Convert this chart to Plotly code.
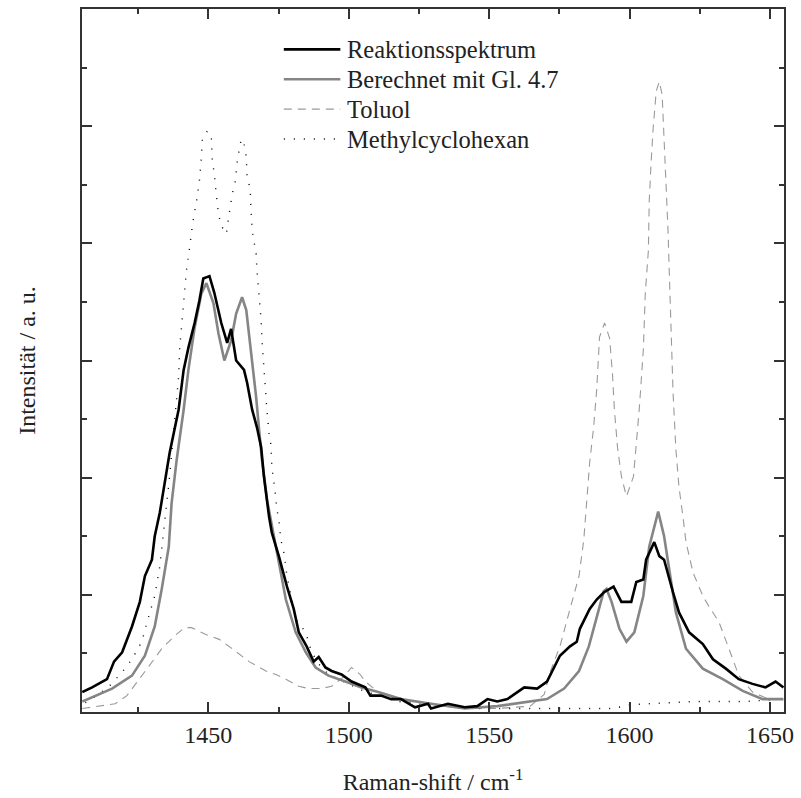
import plotly.graph_objects as go

# ---------------- data ----------------
reak_x = [1405.1, 1408.6, 1413.9, 1416.4, 1419.3, 1422.8, 1425.6, 1427.4, 1429.9, 1430.9,
          1432.7, 1436.2, 1439.4, 1441.2, 1442.9, 1445.1, 1446.8, 1448.2, 1450.4, 1452.1,
          1454.6, 1456.7, 1458.1, 1459.9, 1462.7, 1463.8, 1465.6, 1467.3, 1468.8, 1469.8,
          1471.6, 1472.6, 1475.1, 1478.0, 1480.4, 1482.2, 1485.0, 1487.5, 1489.3, 1491.7,
          1493.9, 1497.4, 1501.0, 1505.9, 1507.7, 1511.5, 1515.1, 1518.6, 1523.6, 1528.2,
          1529.3, 1535.3, 1541.3, 1545.8, 1549.4, 1552.9, 1556.5, 1562.5, 1567.1, 1570.6,
          1575.2, 1578.8, 1581.2, 1582.3, 1585.8, 1588.3, 1590.8, 1594.3, 1597.1, 1600.6,
          1602.4, 1604.9, 1605.9, 1608.8, 1610.6, 1612.3, 1615.5, 1617.6, 1621.2, 1626.1,
          1629.7, 1634.3, 1638.9, 1643.8, 1648.4, 1652.0, 1654.8]
reak_y = [0.17, 0.21, 0.28, 0.43, 0.51, 0.73, 0.94, 1.16, 1.30, 1.50,
          1.70, 2.21, 2.58, 2.92, 3.11, 3.32, 3.51, 3.70, 3.72, 3.58,
          3.32, 3.15, 3.27, 3.00, 2.92, 2.81, 2.58, 2.43, 2.26, 2.01,
          1.67, 1.53, 1.33, 1.07, 0.88, 0.68, 0.56, 0.43, 0.47, 0.38,
          0.35, 0.32, 0.26, 0.21, 0.14, 0.14, 0.11, 0.11, 0.04, 0.07,
          0.03, 0.07, 0.04, 0.05, 0.11, 0.09, 0.11, 0.21, 0.20, 0.26,
          0.48, 0.56, 0.60, 0.71, 0.88, 0.96, 1.02, 1.07, 0.94, 0.94,
          1.11, 1.13, 1.30, 1.45, 1.33, 1.30, 1.02, 0.85, 0.68, 0.58,
          0.45, 0.37, 0.28, 0.24, 0.21, 0.26, 0.21]

calc_x = [1405.1, 1409.7, 1415.7, 1422.8, 1427.4, 1430.9, 1433.4, 1435.9, 1436.9, 1438.7,
          1441.2, 1442.9, 1445.1, 1447.5, 1449.3, 1451.8, 1453.6, 1455.7, 1458.1, 1459.9,
          1462.0, 1463.5, 1464.5, 1465.6, 1467.0, 1468.0, 1469.1, 1470.9, 1474.1, 1477.6,
          1481.1, 1484.7, 1488.2, 1492.8, 1498.8, 1504.5, 1510.5, 1518.6, 1529.3, 1541.3,
          1552.9, 1564.6, 1570.6, 1576.7, 1582.0, 1585.5, 1588.3, 1590.8, 1591.8, 1593.6,
          1596.4, 1598.9, 1601.7, 1604.9, 1607.0, 1610.2, 1612.3, 1614.1, 1616.5, 1620.1,
          1626.1, 1633.2, 1640.3, 1647.4, 1654.8]
calc_y = [0.09, 0.14, 0.20, 0.31, 0.48, 0.73, 1.05, 1.41, 1.78, 2.15,
          2.58, 2.92, 3.28, 3.57, 3.66, 3.49, 3.23, 3.00, 3.17, 3.40,
          3.54, 3.43, 3.23, 2.98, 2.69, 2.43, 2.15, 1.81, 1.39, 0.96,
          0.68, 0.51, 0.38, 0.31, 0.26, 0.21, 0.17, 0.11, 0.07, 0.03,
          0.05, 0.09, 0.11, 0.20, 0.35, 0.56, 0.82, 1.03, 1.05, 0.94,
          0.71, 0.60, 0.68, 0.99, 1.41, 1.71, 1.50, 1.22, 0.85, 0.54,
          0.37, 0.28, 0.18, 0.11, 0.11]

tol_x = [1405.1, 1411.5, 1416.8, 1421.0, 1424.6, 1428.8, 1433.4, 1438.0, 1441.5, 1444.0,
         1449.3, 1453.9, 1458.5, 1464.5, 1470.5, 1474.1, 1477.6, 1482.2, 1485.7, 1490.3,
         1493.9, 1498.1, 1501.0, 1504.1, 1505.9, 1510.5, 1517.5, 1528.2, 1541.3, 1552.9,
         1564.6, 1569.6, 1571.7, 1575.2, 1578.8, 1582.0, 1583.7, 1584.8, 1585.8, 1587.2,
         1588.3, 1589.3, 1591.1, 1592.9, 1593.9, 1594.6, 1595.7, 1597.1, 1598.9, 1601.4,
         1602.4, 1603.5, 1604.9, 1605.6, 1606.7, 1607.0, 1607.7, 1608.4, 1609.5, 1610.6,
         1611.6, 1612.0, 1612.3, 1613.0, 1613.7, 1614.1, 1614.8, 1615.5, 1616.5, 1617.6,
         1619.0, 1620.1, 1622.6, 1626.1, 1628.3, 1631.8, 1635.4, 1638.9, 1643.8, 1649.5,
         1654.8]
tol_y = [0.03, 0.05, 0.07, 0.14, 0.26, 0.39, 0.54, 0.65, 0.72, 0.72,
         0.66, 0.62, 0.54, 0.43, 0.35, 0.32, 0.28, 0.22, 0.20, 0.20,
         0.22, 0.30, 0.38, 0.32, 0.26, 0.17, 0.11, 0.07, 0.03, 0.03,
         0.05, 0.15, 0.34, 0.56, 0.88, 1.16, 1.47, 1.79, 2.13, 2.43,
         2.75, 3.20, 3.32, 3.19, 2.89, 2.58, 2.26, 2.01, 1.84, 2.01,
         2.26, 2.60, 3.09, 3.57, 3.94, 4.36, 4.70, 4.98, 5.30, 5.38,
         5.27, 5.07, 4.79, 4.45, 4.11, 3.79, 3.20, 2.72, 2.24, 1.92,
         1.67, 1.45, 1.19, 0.99, 0.90, 0.77, 0.54, 0.31, 0.17, 0.11,
         0.11]

mch_x = [1406.2, 1409.7, 1414.7, 1419.3, 1422.8, 1426.3, 1428.8, 1430.9, 1432.7, 1434.1,
         1435.2, 1436.2, 1438.0, 1439.4, 1439.8, 1440.8, 1442.2, 1443.3, 1444.4, 1445.8,
         1446.8, 1447.5, 1447.9, 1449.7, 1451.1, 1451.4, 1452.1, 1452.8, 1453.6, 1454.6,
         1456.4, 1457.4, 1458.5, 1459.6, 1460.3, 1461.0, 1461.7, 1462.7, 1463.5, 1463.8,
         1464.9, 1465.2, 1465.6, 1466.3, 1467.0, 1467.3, 1468.0, 1468.8, 1469.1, 1469.8,
         1470.5, 1470.9, 1471.6, 1472.3, 1472.6, 1473.7, 1474.4, 1475.1, 1475.8, 1476.9,
         1478.0, 1479.4, 1481.1, 1483.3, 1485.0, 1486.8, 1489.3, 1492.8, 1498.1, 1505.2,
         1517.5, 1528.2, 1545.8, 1558.9, 1594.3, 1599.9, 1605.9, 1623.7, 1641.4, 1654.8]
mch_y = [0.08, 0.13, 0.22, 0.34, 0.45, 0.60, 0.82, 0.99, 1.24, 1.53,
         1.75, 2.01, 2.49, 2.86, 3.11, 3.40, 3.77, 3.96, 4.17, 4.36,
         4.53, 4.73, 4.90, 4.96, 4.89, 4.70, 4.60, 4.42, 4.25, 4.15,
         4.08, 4.25, 4.42, 4.53, 4.70, 4.80, 4.89, 4.85, 4.74, 4.56,
         4.47, 4.28, 4.11, 4.01, 3.91, 3.77, 3.57, 3.34, 3.17, 2.92,
         2.75, 2.56, 2.38, 2.28, 2.09, 1.90, 1.73, 1.64, 1.47, 1.36,
         1.16, 0.99, 0.79, 0.73, 0.65, 0.51, 0.41, 0.32, 0.26, 0.18,
         0.09, 0.06, 0.03, 0.03, 0.03, 0.06, 0.07, 0.09, 0.09, 0.11]

series_names = ["Reaktionsspektrum", "Berechnet mit Gl. 4.7", "Toluol", "Methylcyclohexan"]
x_tick_vals = [1450, 1500, 1550, 1600, 1650]
x_title = "Raman-shift / cm<sup>-1</sup>"
y_title = "Intensität / a. u."

# ---------------- styles ----------------
FONT = "Liberation Serif"
TXT = "#222222"
styles = [
    dict(color="#000000", width=2.6, dash="solid"),
    dict(color="#858585", width=2.6, dash="solid"),
    dict(color="#9a9a9a", width=1.1, dash="8px,6px"),
    dict(color="#000000", width=1.4, dash="1px,9px"),
]

fig = go.Figure()
# drawing order: toluol, methylcyclohexan, berechnet, reaktion
for xs, ys, idx in [(tol_x, tol_y, 2), (mch_x, mch_y, 3), (calc_x, calc_y, 1), (reak_x, reak_y, 0)]:
    fig.add_trace(go.Scatter(x=xs, y=ys, mode="lines", name=series_names[idx],
                             line=styles[idx], showlegend=False, hoverinfo="skip"))

# manual legend (line sample + label), placed in paper coordinates
leg_rows_y = [0.9426, 0.9001, 0.8576, 0.8150]
for i, name in enumerate(series_names):
    st = styles[i]
    fig.add_shape(type="line", xref="paper", yref="paper",
                  x0=0.2875, x1=0.368, y0=leg_rows_y[i], y1=leg_rows_y[i],
                  line=dict(color=st["color"], width=st["width"], dash=st["dash"]))
    fig.add_annotation(xref="paper", yref="paper", x=0.374, y=leg_rows_y[i],
                       text=name, showarrow=False, xanchor="left", yanchor="middle",
                       font=dict(family=FONT, size=24.5, color=TXT))

axis_common = dict(showgrid=False, zeroline=False, showline=True, linecolor="#333333",
                   linewidth=2, mirror="allticks", ticks="inside", ticklen=10,
                   tickwidth=2, tickcolor="#333333")

fig.update_xaxes(range=[1405, 1655], tickvals=x_tick_vals,
                 ticktext=[str(v) for v in x_tick_vals],
                 minor=dict(dtick=25, tick0=1400, ticks="inside", ticklen=5,
                            tickwidth=2, tickcolor="#333333"),
                 tickfont=dict(family=FONT, size=24, color=TXT),
                 title=dict(text=x_title, font=dict(family=FONT, size=24, color=TXT),
                            standoff=26),
                 **axis_common)
fig.update_yaxes(range=[0, 6], dtick=1, tick0=0, showticklabels=False,
                 minor=dict(dtick=0.5, tick0=0, ticks="inside", ticklen=5,
                            tickwidth=2, tickcolor="#333333"),
                 title=dict(text=y_title, font=dict(family=FONT, size=24, color=TXT),
                            standoff=38),
                 **axis_common)

fig.update_layout(width=801, height=798,
                  margin=dict(l=82, r=13, t=7, b=85),
                  paper_bgcolor="white", plot_bgcolor="white",
                  font=dict(family=FONT, size=24, color=TXT))

fig.write_html("out.html")
